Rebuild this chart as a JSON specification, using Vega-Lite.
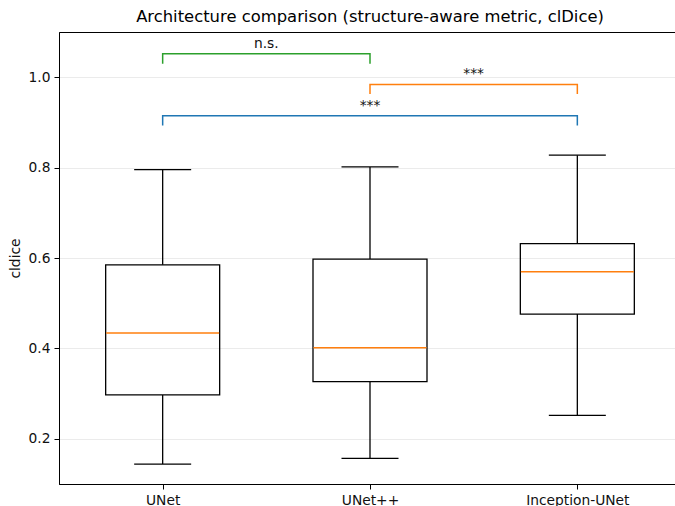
{
  "$schema": "https://vega.github.io/schema/vega-lite/v6.json",
  "width": 622,
  "height": 452,
  "autosize": {"type": "none"},
  "padding": {"left": 59, "top": 32, "right": 0, "bottom": 22},
  "background": "white",
  "title": {
    "text": "Architecture comparison (structure-aware metric, clDice)",
    "fontSize": 16.4,
    "fontWeight": "normal",
    "anchor": "middle",
    "offset": 7,
    "color": "black"
  },
  "config": {
    "font": "DejaVu Sans",
    "view": {"stroke": "black", "strokeWidth": 1},
    "axis": {
      "domainColor": "black",
      "domainWidth": 1,
      "tickColor": "black",
      "tickSize": 5,
      "labelFontSize": 13.8,
      "labelColor": "#111111",
      "labelPadding": 4,
      "titleFontSize": 13.8,
      "titleFontWeight": "normal",
      "titleColor": "#111111"
    }
  },
  "datasets": {
    "boxes": [
      {"model": "UNet", "pos": 1, "low": 0.144, "q1": 0.297, "median": 0.434, "q3": 0.585, "high": 0.7955},
      {"model": "UNet++", "pos": 2, "low": 0.1565, "q1": 0.3266, "median": 0.4017, "q3": 0.5976, "high": 0.8015},
      {"model": "Inception-UNet", "pos": 3, "low": 0.252, "q1": 0.476, "median": 0.5696, "q3": 0.632, "high": 0.8274}
    ],
    "brackets": [
      {"pair": "UNet vs Inception-UNet", "order": 1, "xv": 1, "yv": 0.893},
      {"pair": "UNet vs Inception-UNet", "order": 2, "xv": 1, "yv": 0.9148},
      {"pair": "UNet vs Inception-UNet", "order": 3, "xv": 3, "yv": 0.9148},
      {"pair": "UNet vs Inception-UNet", "order": 4, "xv": 3, "yv": 0.893},
      {"pair": "UNet++ vs Inception-UNet", "order": 1, "xv": 2, "yv": 0.963},
      {"pair": "UNet++ vs Inception-UNet", "order": 2, "xv": 2, "yv": 0.984},
      {"pair": "UNet++ vs Inception-UNet", "order": 3, "xv": 3, "yv": 0.984},
      {"pair": "UNet++ vs Inception-UNet", "order": 4, "xv": 3, "yv": 0.963},
      {"pair": "UNet vs UNet++", "order": 1, "xv": 1, "yv": 1.03},
      {"pair": "UNet vs UNet++", "order": 2, "xv": 1, "yv": 1.0518},
      {"pair": "UNet vs UNet++", "order": 3, "xv": 2, "yv": 1.0518},
      {"pair": "UNet vs UNet++", "order": 4, "xv": 2, "yv": 1.03}
    ],
    "labels": [
      {"pair": "UNet vs Inception-UNet", "xmid": 2, "yv": 0.9148, "label": "***"},
      {"pair": "UNet++ vs Inception-UNet", "xmid": 2.5, "yv": 0.984, "label": "***"},
      {"pair": "UNet vs UNet++", "xmid": 1.5, "yv": 1.0518, "label": "n.s."}
    ]
  },
  "layer": [
    {
      "data": {"name": "boxes"},
      "mark": {"type": "rule", "color": "black", "strokeWidth": 1.3},
      "encoding": {
        "x": {
          "field": "pos", "type": "quantitative",
          "scale": {"domain": [0.5, 3.5], "nice": false, "zero": false, "padding": 0},
          "axis": {
            "values": [1, 2, 3],
            "labelExpr": "datum.value == 1 ? 'UNet' : datum.value == 2 ? 'UNet++' : 'Inception-UNet'",
            "grid": false,
            "title": null
          }
        },
        "y": {
          "field": "low", "type": "quantitative",
          "scale": {"domain": [0.1, 1.1], "nice": false, "zero": false, "padding": 0},
          "axis": {
            "values": [0.2, 0.4, 0.6, 0.8, 1.0],
            "format": ".1f",
            "grid": true,
            "gridColor": "#ebebeb",
            "gridWidth": 1,
            "title": "cldice",
            "titlePadding": 6
          }
        },
        "y2": {"field": "q1"}
      }
    },
    {
      "data": {"name": "boxes"},
      "mark": {"type": "rule", "color": "black", "strokeWidth": 1.3},
      "encoding": {
        "x": {"field": "pos", "type": "quantitative"},
        "y": {"field": "q3", "type": "quantitative"},
        "y2": {"field": "high"}
      }
    },
    {
      "data": {"name": "boxes"},
      "mark": {"type": "bar", "filled": false, "stroke": "black", "strokeWidth": 1.3, "size": 114, "orient": "vertical"},
      "encoding": {
        "x": {"field": "pos", "type": "quantitative"},
        "y": {"field": "q1", "type": "quantitative"},
        "y2": {"field": "q3"}
      }
    },
    {
      "data": {"name": "boxes"},
      "mark": {"type": "tick", "orient": "horizontal", "color": "black", "size": 57, "thickness": 1.3, "opacity": 1},
      "encoding": {
        "x": {"field": "pos", "type": "quantitative"},
        "y": {"field": "low", "type": "quantitative"}
      }
    },
    {
      "data": {"name": "boxes"},
      "mark": {"type": "tick", "orient": "horizontal", "color": "black", "size": 57, "thickness": 1.3, "opacity": 1},
      "encoding": {
        "x": {"field": "pos", "type": "quantitative"},
        "y": {"field": "high", "type": "quantitative"}
      }
    },
    {
      "data": {"name": "boxes"},
      "mark": {"type": "tick", "orient": "horizontal", "color": "#ff7f0e", "size": 113, "thickness": 1.5, "opacity": 1},
      "encoding": {
        "x": {"field": "pos", "type": "quantitative"},
        "y": {"field": "median", "type": "quantitative"}
      }
    },
    {
      "data": {"name": "brackets"},
      "mark": {"type": "line", "strokeWidth": 1.5},
      "encoding": {
        "x": {"field": "xv", "type": "quantitative"},
        "y": {"field": "yv", "type": "quantitative"},
        "order": {"field": "order", "type": "quantitative"},
        "color": {
          "field": "pair", "type": "nominal",
          "scale": {
            "domain": ["UNet vs Inception-UNet", "UNet++ vs Inception-UNet", "UNet vs UNet++"],
            "range": ["#1f77b4", "#ff7f0e", "#2ca02c"]
          },
          "legend": null
        }
      }
    },
    {
      "data": {"name": "labels"},
      "mark": {"type": "text", "fontSize": 13.8, "baseline": "alphabetic", "align": "center", "dy": -6, "color": "#111111"},
      "encoding": {
        "x": {"field": "xmid", "type": "quantitative"},
        "y": {"field": "yv", "type": "quantitative"},
        "text": {"field": "label"}
      }
    }
  ]
}
